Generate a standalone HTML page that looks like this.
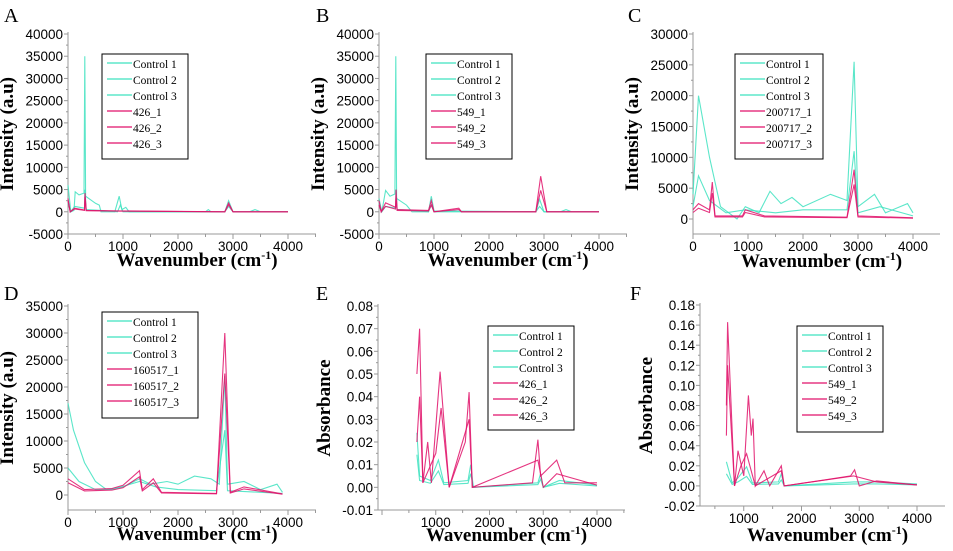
<!DOCTYPE html>
<html><head><meta charset="utf-8"><style>
body{margin:0;background:#fff;width:953px;height:551px;overflow:hidden;font-family:"Liberation Serif",serif}
svg{display:block}
</style></head><body>
<svg id="fig" width="953" height="551" font-family="Liberation Serif, serif"></svg>
<script>
const ticksIntensity40=[-5000,0,5000,10000,15000,20000,25000,30000,35000,40000];
const ticksIntensity30=[0,5000,10000,15000,20000,25000,30000];
const ticksIntensity35=[0,5000,10000,15000,20000,25000,30000,35000];
const ticksAbsE=[-0.01,0,0.01,0.02,0.03,0.04,0.05,0.06,0.07,0.08];
const ticksAbsF=[-0.02,0,0.02,0.04,0.06,0.08,0.10,0.12,0.14,0.16,0.18];
const xTicks=[0,1000,2000,3000,4000];
const xTicksAbs=[1000,2000,3000,4000];
const legendA=["Control 1","Control 2","Control 3","426_1","426_2","426_3"];
const legendB=["Control 1","Control 2","Control 3","549_1","549_2","549_3"];
const legendC=["Control 1","Control 2","Control 3","200717_1","200717_2","200717_3"];
const legendD=["Control 1","Control 2","Control 3","160517_1","160517_2","160517_3"];
// series: [wavenumber, value]
const aCtrlHigh=[[0,6000],[50,0],[110,300],[130,4500],[200,3800],[290,4200],[305,35000],[320,3500],[500,1900],[570,1500],[600,0],[850,0],[930,3500],[980,500],[1050,1000],[1110,0],[2500,0],[2550,500],[2600,0],[2850,0],[2920,2500],[3000,0],[3300,0],[3400,500],[3500,0],[4000,0]];
const aCtrlLow=[[0,2000],[50,0],[120,1200],[300,800],[310,5000],[330,500],[600,300],[900,0],[950,1500],[1000,0],[2850,0],[2920,1200],[3000,0],[4000,0]];
const aSample=[[0,3000],[40,0],[120,800],[300,400],[310,4200],[330,300],[900,200],[2850,0],[2920,2000],[3000,0],[4000,0]];
const bCtrlHigh=[[0,3000],[50,0],[120,4800],[200,3500],[290,4000],[305,35000],[320,3000],[500,1500],[600,0],[900,0],[950,3500],[1000,200],[2850,0],[2920,2800],[3000,0],[3300,0],[3400,500],[3500,0],[4000,0]];
const bSample=[[0,2500],[40,0],[120,2000],[300,1000],[310,5000],[330,500],[900,300],[950,2500],[1000,0],[1450,800],[1500,0],[2850,0],[2940,8000],[3050,0],[4000,0]];
const cCtrlHigh=[[0,4000],[100,20000],[200,15000],[300,10000],[500,2000],[800,0],[950,2000],[1200,1000],[1400,4500],[1600,2500],[1800,3500],[2000,2000],[2500,4000],[2800,3000],[2930,25500],[3000,2000],[3300,4000],[3500,1000],[3900,2500],[4000,1000]];
const cCtrlLow=[[0,2000],[100,7000],[300,3000],[600,1000],[950,1500],[1500,1000],[2000,1500],[2800,1500],[2930,11000],[3000,1000],[3400,2000],[4000,500]];
const cSample=[[0,1500],[100,2500],[300,1500],[350,6000],[400,500],[900,500],[950,1500],[1300,500],[2800,300],[2930,8000],[3000,500],[4000,200]];
const dCtrlHigh=[[0,17000],[100,12000],[300,6000],[500,2500],[700,1000],[1000,1500],[1300,3000],[1500,2000],[1800,2500],[2000,2000],[2300,3500],[2600,3000],[2750,2000],[2850,22000],[2900,2000],[3200,2500],[3500,1000],[3800,2000],[3900,500]];
const dCtrlLow=[[0,5000],[200,2500],[500,1000],[800,1000],[1300,2500],[1600,1500],[2000,1000],[2700,800],[2850,12000],[2900,800],[3500,500],[3900,300]];
const dSample=[[0,3000],[300,1000],[800,1200],[1000,1800],[1300,4500],[1350,1000],[1550,3000],[1700,500],[2700,300],[2850,30000],[2950,500],[3200,1500],[3900,200]];
const eCtrl=[[650,0.024],[700,0.005],[900,0.003],[1050,0.012],[1150,0.002],[1600,0.003],[1650,0.01],[1700,0],[2900,0.002],[2950,0.006],[3000,0],[3300,0.003],[4000,0.001]];
const eSampleHigh=[[650,0.05],[700,0.07],[760,0.002],[850,0.02],[920,0.002],[1080,0.051],[1150,0.03],[1250,0],[1550,0.02],[1620,0.042],[1680,0],[2800,0.002],[2900,0.021],[2950,0.005],[3250,0.012],[3400,0.002],[4000,0.002]];
const eSampleLow=[[650,0.02],[700,0.04],[760,0.002],[1000,0.015],[1100,0.035],[1250,0],[1620,0.03],[1680,0],[2900,0.012],[3000,0],[3250,0.006],[4000,0.001]];
const fCtrl=[[700,0.024],[800,0.003],[900,0.008],[1050,0.019],[1150,0.003],[1600,0.004],[1650,0.012],[1700,0],[2900,0.004],[3300,0.004],[4000,0.002]];
const fSampleHigh=[[700,0.08],[720,0.163],[840,0],[900,0.035],[1000,0.01],[1080,0.09],[1130,0.05],[1160,0.067],[1200,0],[1350,0.015],[1450,0],[1650,0.02],[1700,0],[2400,0.006],[2850,0.01],[2920,0.016],[3000,0],[3300,0.005],[4000,0.001]];
const fSampleLow=[[700,0.05],[720,0.12],[840,0],[950,0.02],[1050,0.032],[1200,0],[1650,0.015],[1700,0],[2900,0.01],[3300,0.004],[4000,0.001]];

const TEAL="#3ee2bf", MAG="#e0126a";
const svg=document.getElementById('fig');
const NS="http://www.w3.org/2000/svg";
function mk(tag,attrs,parent){const e=document.createElementNS(NS,tag);for(const k in attrs)e.setAttribute(k,attrs[k]);(parent||svg).appendChild(e);return e;}

const panels=[
 {id:'a',letter:'A',lx:4,ly:22,ax:68,xAxisEnd:316,x0:68,x4000:288,yTop:34,yBot:234,vTop:40000,vBot:-5000,yticks:ticksIntensity40,xt:xTicks,dec:0,tb:266,ytitle:'Intensity (a.u)',leg:[102,54,86,105],legN:legendA,series:[[aCtrlHigh,TEAL],[aCtrlLow,TEAL],[aSample,MAG],[aSample.map(p=>[p[0],p[1]*0.8]),MAG]]},
 {id:'b',letter:'B',lx:316,ly:22,ax:379,xAxisEnd:627,x0:379,x4000:599,yTop:34,yBot:234,vTop:40000,vBot:-5000,yticks:ticksIntensity40,xt:xTicks,dec:0,tb:266,ytitle:'Intensity (a.u)',leg:[426,54,86,105],legN:legendB,series:[[bCtrlHigh,TEAL],[aCtrlLow,TEAL],[bSample,MAG],[bSample.map(p=>[p[0],p[1]*0.6]),MAG]]},
 {id:'c',letter:'C',lx:628,ly:22,ax:693,xAxisEnd:940,x0:693,x4000:913,yTop:34,yBot:234,vTop:30000,vBot:-2430,yticks:ticksIntensity30,xt:xTicks,dec:0,tb:267,ytitle:'Intensity (a.u)',leg:[735,54,88,105],legN:legendC,series:[[cCtrlHigh,TEAL],[cCtrlLow,TEAL],[cSample,MAG],[cSample.map(p=>[p[0],p[1]*0.7]),MAG]]},
 {id:'d',letter:'D',lx:4,ly:300,ax:68,xAxisEnd:316,x0:68,x4000:288,yTop:306,yBot:510,vTop:35000,vBot:-2780,yticks:ticksIntensity35,xt:xTicks,dec:0,tb:540,ytitle:'Intensity (a.u)',leg:[102,312,96,106],legN:legendD,series:[[dCtrlHigh,TEAL],[dCtrlLow,TEAL],[dSample,MAG],[dSample.map(p=>[p[0],p[1]*0.75]),MAG]]},
 {id:'e',letter:'E',lx:316,ly:300,ax:378,xAxisEnd:625,x0:382,x4000:597,yTop:306,yBot:510,vTop:0.08,vBot:-0.01,yticks:ticksAbsE,xt:xTicksAbs,dec:2,tb:541,ytitle:'Absorbance',leg:[488,326,86,104],legN:legendA,series:[[eCtrl,TEAL],[eCtrl.map(p=>[p[0],p[1]*0.6]),TEAL],[eSampleHigh,MAG],[eSampleLow,MAG]]},
 {id:'f',letter:'F',lx:630,ly:300,ax:700,xAxisEnd:945,x0:686,x4000:917,yTop:305,yBot:506,vTop:0.18,vBot:-0.02,yticks:ticksAbsF,xt:xTicksAbs,dec:2,tb:541,ytitle:'Absorbance',leg:[797,326,86,106],legN:legendB,series:[[fCtrl,TEAL],[fCtrl.map(p=>[p[0],p[1]*0.5]),TEAL],[fSampleHigh,MAG],[fSampleLow,MAG]]}
];

panels.forEach(p=>{
 const g=mk('g',{});
 
 
 const X=v=>p.x0+(p.x4000-p.x0)*v/4000;
 const Y=v=>p.yBot+(p.yTop-p.yBot)*(v-p.vBot)/(p.vTop-p.vBot);
 const L=mk('text',{x:p.lx,y:p.ly,'font-size':20},g);L.textContent=p.letter;
 
 
 mk('line',{x1:p.ax,y1:p.yTop-2,x2:p.ax,y2:p.yBot,stroke:'#999','stroke-width':1},g);
 mk('line',{x1:p.ax,y1:p.yBot,x2:p.xAxisEnd,y2:p.yBot,stroke:'#999','stroke-width':1},g);
 p.yticks.forEach((t,i)=>{
  const y=Y(t);
  mk('line',{x1:p.ax-4,y1:y,x2:p.ax,y2:y,stroke:'#999'},g);
  if(i<p.yticks.length-1){mk('line',{x1:p.ax-2,y1:(y+Y(p.yticks[i+1]))/2,x2:p.ax,y2:(y+Y(p.yticks[i+1]))/2,stroke:'#999'},g);}
  const tx=mk('text',{x:p.ax-5,y:y+5,'font-size':13.5,'text-anchor':'end','font-family':'Liberation Sans, sans-serif'},g);
  tx.textContent=p.dec?t.toFixed(2):String(t);
  
  
 });
 for(let v=0;v<=4500;v+=500){const x=X(v);if(x<p.ax||x>p.xAxisEnd)continue;mk('line',{x1:x,y1:p.yBot,x2:x,y2:p.yBot+(v%1000?3:5),stroke:'#999'},g);}
 p.xt.forEach(t=>{
  const tx=mk('text',{x:X(t),y:p.yBot+17,'font-size':13.5,'text-anchor':'middle','font-family':'Liberation Sans, sans-serif'},g);
  tx.textContent=String(t);
  
  
 });
 const xt=mk('text',{x:(p.ax+p.xAxisEnd)/2+5,y:p.tb,'font-size':19,'font-weight':'bold','text-anchor':'middle'},g);
 xt.innerHTML='Wavenumber (cm<tspan dy="-7" font-size="12">-1</tspan><tspan dy="7">)</tspan>';
 
 
 const ytx=p.ax-(p.dec?48:55), ycy=(p.yTop+p.yBot)/2;
 const yt=mk('text',{x:ytx,y:ycy,'font-size':19,'font-weight':'bold','text-anchor':'middle',transform:`rotate(-90 ${ytx} ${ycy})`},g);
 yt.textContent=p.ytitle;
 
 
 p.series.forEach((s,i)=>{
  const d=s[0].map((q,j)=>(j?'L':'M')+X(q[0]).toFixed(1)+' '+Y(q[1]).toFixed(1)).join(' ');
  const path=mk('path',{d:d,fill:'none',stroke:s[1],'stroke-width':1.1,opacity:0.85},g);
  
  
 });
 const [lx,ly,lw,lh]=p.leg;
 const lg=mk('g',{},g);
 
 
 mk('rect',{x:lx,y:ly,width:lw,height:lh,fill:'#fff',stroke:'#000','stroke-width':1},lg);
 p.legN.forEach((n,i)=>{
  const y=ly+13+i*16;
  mk('line',{x1:lx+5,y1:y-4,x2:lx+30,y2:y-4,stroke:i<3?TEAL:MAG,'stroke-width':1.2},lg);
  const t=mk('text',{x:lx+31,y:y+1,'font-size':11.5},lg);
  t.textContent=n;
  
  
 });
});
</script>
</body></html>
